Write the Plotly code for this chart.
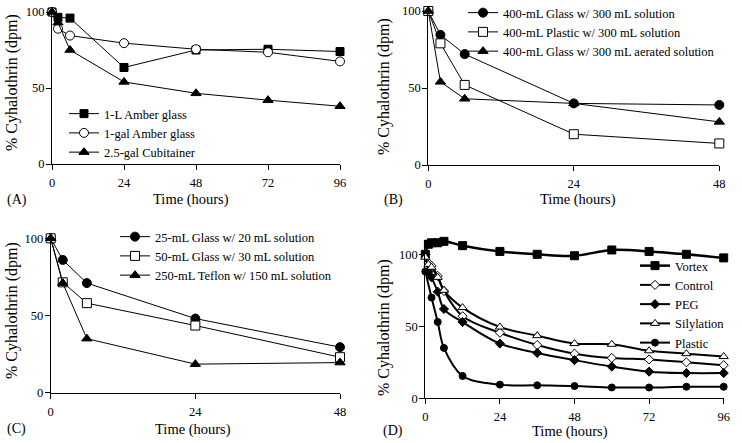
import plotly.graph_objects as go

# ---------------- data ----------------
# Panel A
a_time = [0, 2, 6, 24, 48, 72, 96]
a_amber_1L = [100, 96.5, 96, 63.5, 75, 75.5, 74]
a_amber_1gal = [100, 89, 84.5, 79.5, 75.5, 73.5, 67.5]
a_cubitainer = [100, 93, 75, 54, 46.5, 42, 38]
a_names = ["1-L Amber glass", "1-gal Amber glass", "2.5-gal Cubitainer"]

# Panel B
b_time = [0, 2, 6, 24, 48]
b_glass = [100, 84.5, 72, 40, 39]
b_plastic = [100, 79, 52, 20, 14]
b_aerated = [100, 54, 43, 40, 28]
b_names = ["400-mL Glass w/ 300 mL solution", "400-mL Plastic w/ 300 mL solution",
           "400-mL Glass w/ 300 mL aerated solution"]

# Panel C
c_time = [0, 2, 6, 24, 48]
c_glass25 = [100, 86, 71, 48, 29.5]
c_glass50 = [100, 71.5, 58, 43.5, 23]
c_teflon = [100, 71, 35, 18.5, 19.5]
c_names = ["25-mL Glass w/ 20 mL solution", "50-mL Glass w/ 30 mL solution",
           "250-mL Teflon w/ 150 mL solution"]

# Panel D
d_time = [0, 1, 2, 4, 6, 12, 24, 36, 48, 60, 72, 84, 96]
d_vortex = [100, 107, 108, 108, 109, 106, 102, 100, 99, 103, 102, 100, 97.5]
d_control = [100, 94, 92, 85, 74.5, 57, 45.5, 37, 31, 28, 27, 25, 23]
d_peg = [100, 88, 84, 74, 62, 53, 38, 31.5, 26.5, 22, 18.5, 17.5, 17.5]
d_silylation = [98, 93, 91, 84, 75, 63, 49.5, 43.5, 38, 37.5, 33, 31, 29]
d_plastic_time = [0, 2, 4, 6, 12, 24, 36, 48, 60, 72, 84, 96]
d_plastic = [88, 70, 53, 35, 15.5, 9.5, 9, 8.5, 7.5, 7.5, 8, 8]
d_names = ["Vortex", "Control", "PEG", "Silylation", "Plastic"]

a_ticks = [0, 24, 48, 72, 96]
bc_ticks = [0, 24, 48]
y_ticks = [0, 50, 100]

# ---------------- figure ----------------
FONT = "Liberation Serif"
W, H = 742, 443
fig = go.Figure()


def px_x(v):
    return v / W


def px_y(v):
    return 1 - v / H


def add(x, y, name, symbol, fill, xa, ya, leg, size=8, lw=1, shape="linear"):
    fig.add_trace(go.Scatter(
        x=x, y=y, name=name, mode="lines+markers",
        line=dict(color="black", width=lw, shape=shape),
        marker=dict(symbol=symbol, size=size, color=fill,
                    line=dict(color="black", width=1)),
        xaxis=xa, yaxis=ya, legend=leg, cliponaxis=False,
    ))


# A
add(a_time, a_amber_1L, a_names[0], "square", "black", "x", "y", "legend", 8)
add(a_time, a_amber_1gal, a_names[1], "circle", "white", "x", "y", "legend", 9)
add(a_time, a_cubitainer, a_names[2], "triangle-up", "black", "x", "y", "legend", 9)
# B
add(b_time, b_glass, b_names[0], "circle", "black", "x2", "y2", "legend2", 9)
add(b_time, b_plastic, b_names[1], "square", "white", "x2", "y2", "legend2", 9)
add(b_time, b_aerated, b_names[2], "triangle-up", "black", "x2", "y2", "legend2", 9)
# C
add(c_time, c_glass25, c_names[0], "circle", "black", "x3", "y3", "legend3", 9)
add(c_time, c_glass50, c_names[1], "square", "white", "x3", "y3", "legend3", 9)
add(c_time, c_teflon, c_names[2], "triangle-up", "black", "x3", "y3", "legend3", 9)
# D
add(d_time, d_vortex, d_names[0], "square", "black", "x4", "y4", "legend4", 8, 2.5, "spline")
add(d_time, d_control, d_names[1], "diamond", "white", "x4", "y4", "legend4", 7, 2, "spline")
add(d_time, d_peg, d_names[2], "diamond", "black", "x4", "y4", "legend4", 7, 2, "spline")
add(d_time, d_silylation, d_names[3], "triangle-up", "white", "x4", "y4", "legend4", 8, 2, "spline")
add(d_plastic_time, d_plastic, d_names[4], "circle", "black", "x4", "y4", "legend4", 7, 2, "spline")

axis_common = dict(showgrid=False, zeroline=False, showline=True, linecolor="black",
                   linewidth=1, ticks="outside", ticklen=5, tickcolor="black", tickwidth=1,
                   tickfont=dict(family=FONT, size=12.5, color="black"))

panels = {
    "": dict(x0=52, x1=340, ytop=12, ybot=164, xr=[0, 96], yr=[0, 100], xt=a_ticks),
    "2": dict(x0=428.3, x1=719.3, ytop=11, ybot=165, xr=[0, 48], yr=[0, 100], xt=bc_ticks),
    "3": dict(x0=50.7, x1=340, ytop=238.3, ybot=392.7, xr=[0, 48], yr=[0, 100], xt=bc_ticks),
    "4": dict(x0=425.3, x1=723.7, ytop=239.9, ybot=398.3, xr=[0, 96], yr=[0, 110], xt=a_ticks),
}
layout = {}
for k, p in panels.items():
    layout["xaxis" + k] = dict(axis_common, domain=[px_x(p["x0"]), px_x(p["x1"])],
                               range=p["xr"], tickvals=p["xt"], anchor="y" + k,
                               ticklabelstandoff=2)
    layout["yaxis" + k] = dict(axis_common, domain=[px_y(p["ybot"]), px_y(p["ytop"])],
                               range=p["yr"], tickvals=y_ticks, anchor="x" + k,
                               ticklabelstandoff=-1)

leg_common = dict(bgcolor="rgba(0,0,0,0)", font=dict(family=FONT, size=12.5, color="black"),
                  xanchor="left", yanchor="top", tracegroupgap=0, itemwidth=30)
layout["legend"] = dict(leg_common, x=px_x(64), y=px_y(99))
layout["legend2"] = dict(leg_common, x=px_x(463), y=px_y(-2))
layout["legend3"] = dict(leg_common, x=px_x(115), y=px_y(222))
layout["legend4"] = dict(leg_common, x=px_x(635), y=px_y(251))

fig.update_layout(width=W, height=H,
                  margin=dict(l=0, r=0, t=0, b=0, pad=0, autoexpand=False),
                  paper_bgcolor="white", plot_bgcolor="white", showlegend=True,
                  font=dict(family=FONT, color="black"), **layout)

# axis titles and panel labels
ann = []
for (cx, cy) in [(191, 200), (577.7, 200), (193, 429.3), (569.5, 431.5)]:
    ann.append(dict(text="Time (hours)", x=px_x(cx), y=px_y(cy), xref="paper", yref="paper",
                    showarrow=False, xanchor="center", yanchor="middle",
                    font=dict(family=FONT, size=14.5, color="black")))
for (cx, cy) in [(12, 83), (384, 87), (12, 311), (384, 328)]:
    ann.append(dict(text="% Cyhalothrin (dpm)", x=px_x(cx), y=px_y(cy), xref="paper", yref="paper",
                    showarrow=False, xanchor="center", yanchor="middle", textangle=-90,
                    font=dict(family=FONT, size=16, color="black")))
for (lab, lx, cy) in [("(A)", 5, 200), ("(B)", 382, 200), ("(C)", 5, 429.3), ("(D)", 381, 431)]:
    ann.append(dict(text=lab, x=px_x(lx), y=px_y(cy), xref="paper", yref="paper",
                    showarrow=False, xanchor="left", yanchor="middle",
                    font=dict(family=FONT, size=14, color="black")))
fig.update_layout(annotations=ann)

fig.write_html("out.html", config={"displayModeBar": False},
               post_script="document.body.style.margin='0';document.body.style.overflow='hidden';")
